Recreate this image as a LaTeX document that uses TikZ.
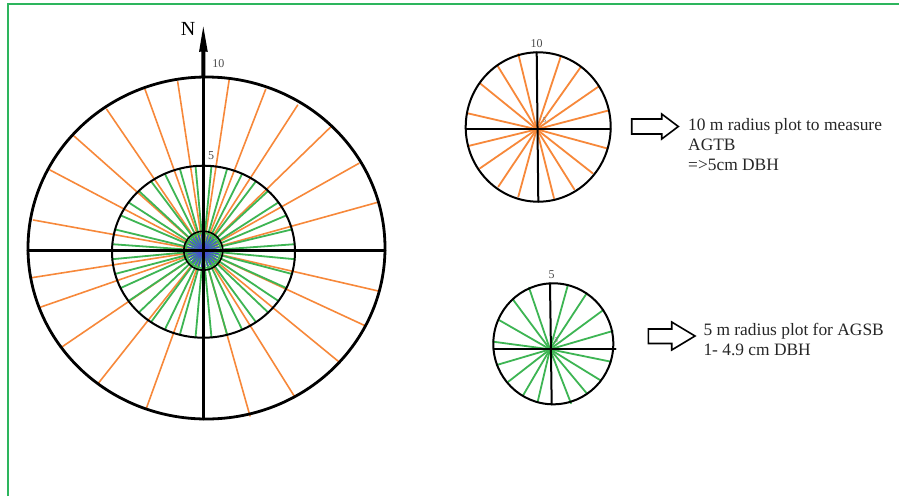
\documentclass[tikz,border=0pt]{standalone}
\usepackage{fontspec}
\setmainfont{Liberation Serif}
\definecolor{org}{HTML}{F7883A}
\definecolor{grn}{HTML}{3DB553}
\definecolor{blu}{HTML}{4650D2}
\definecolor{frm}{HTML}{2DB55D}
\tikzset{
  orgspoke/.style={org, line width=1.6pt},
  grnspoke/.style={grn, line width=1.8pt},
  thickblk/.style={black, line width=2.8pt},
  midblk/.style={black, line width=2pt},
  lbl/.style={inner sep=0pt, font=\fontsize{12}{12}\selectfont, text=black!70},
  tiny/.style={inner sep=0pt, font=\fontsize{7}{7}\selectfont, text=black!60},
  desc/.style={inner sep=0pt, anchor=base west, font=\fontsize{17.4}{20}\selectfont, text=black!85},
  blockarrow/.style={draw=black, fill=white, line width=1.6pt, line join=miter}
}
\begin{document}
\begin{tikzpicture}[x=1pt,y=-1pt, line cap=round]
\useasboundingbox (0,0) rectangle (899,496);
\fill[white] (0,0) rectangle (899,496);
\draw[frm, line width=2pt, line cap=butt] (7.5,496) -- (7.5,3.5) -- (899,3.5);

% ---------- big plot ----------
\coordinate (C) at (203.3,250.7);
\foreach \x/\y in {33.3/220, 50/170, 74/136, 106.7/109.3, 145/89.3, 177.7/81.7,
  229.3/79, 265.7/89.3, 297.7/105, 331/126.7, 359/163.3, 377.7/202.3,
  31.7/277.7, 40/307.3, 62.3/346.7, 98.3/383.3, 146/409.3, 250/416,
  295/397.3, 340/362.7, 365.7/326, 378.3/291}
  \draw[orgspoke] (C) -- (\x,\y);
\foreach \a in {5,15,...,355}
  \draw[grnspoke] (C) -- ({203.5+91.5*cos(\a)},{251.7-86*sin(\a)});
% centre disc
\foreach \a in {0,12,...,348}
  \draw[blu, line width=1.1pt] (C) -- ++(\a:16);
\fill[blu] (C) circle[radius=5pt];
\draw[grn, line width=1.6pt] (C) circle[radius=17.5pt];
\draw[black, line width=1.6pt] (C) circle[radius=19.5pt];

\draw[thickblk] (206.5,248) ellipse[x radius=178.5pt, y radius=171pt];
\draw[midblk] (203.5,251.7) ellipse[x radius=91.5pt, y radius=86pt];
\coordinate (BL) at (28,250.7);
\coordinate (BR) at (385,250.7);
\coordinate (BT) at (203.3,77);
\coordinate (BB) at (203.3,419);
\draw[thickblk] (BL) -- (BR);
\draw[thickblk] (BT) -- (BB);
% north arrow
\fill[black] (201.4,78) -- (201.4,51.5) -- (199,52) -- (203.3,26.5) -- (207.8,52) -- (205.3,51.5) -- (205.3,78) -- cycle;
\node[inner sep=0pt, font=\fontsize{20}{20}\selectfont] (N) at (188,28.5) {N};
\node[lbl] (ten) at (218.3,63.3) {10};
\node[lbl] (five) at (211,156) {5};

% ---------- 10 m plot ----------
\coordinate (O) at (536.7,129.3);
\foreach \x/\y in {518.3/54, 497.7/66, 480/83.3, 467.7/113.3, 468.3/146, 480/168.3,
  498.3/186.7, 518.3/196.7, 554/198.3, 574.3/189.3, 592.7/173.3, 606.7/148.3,
  607.7/110.7, 598.3/86.7, 581/66.7, 560.7/56.7}
  \draw[orgspoke, line width=1.8pt] (O) -- (\x,\y);
\draw[midblk] (538.2,127) ellipse[x radius=72.5pt, y radius=74.7pt];
\draw[midblk] (465.7,129.3) -- (610.7,129.3);
\draw[midblk] (536.7,52.3) -- (538.3,201.7);
\node[lbl] (tenB) at (536.7,44) {10};
\node[tiny] (fiveB) at (544.3,120) {5};

\draw[blockarrow] (631.7,119) -- (661.7,119) -- (661.7,114) -- (678.3,126.5)
  -- (661.7,139) -- (661.7,134) -- (631.7,134) -- cycle;
\node[desc] (t1) at (688,130) {10 m radius plot to measure};
\node[desc] (t2) at (688,150.5) {AGTB};
\node[desc] (t3) at (688,170.5) {=>5cm DBH};

% ---------- 5 m plot ----------
\coordinate (G) at (550,349.3);
\foreach \x/\y in {529/287.7, 513.3/300, 499/320, 493.3/341.7, 496.7/365, 508.3/381.7,
  523.3/395, 537.7/401.7, 571/403.3, 586.7/393.3, 600/380, 611/361.7,
  612.7/331, 603.3/310, 586.7/293.3, 567.7/285.7}
  \draw[grnspoke] (G) -- (\x,\y);
\draw[midblk] (553.3,343.8) ellipse[x radius=60pt, y radius=60.5pt];
\draw[midblk] (493.3,349.3) -- (615.7,349.3);
\draw[midblk] (550,283.3) -- (551.7,404.3);
\node[lbl] (fiveC) at (551.7,275) {5};
\node[tiny] (fiveD) at (556,340) {5};

\draw[blockarrow] (648.3,329) -- (671.7,329) -- (671.7,322) -- (695,336)
  -- (671.7,350) -- (671.7,343.5) -- (648.3,343.5) -- cycle;
\node[desc] (s1) at (703.3,335) {5 m radius plot for AGSB};
\node[desc] (s2) at (703.3,355.5) {1- 4.9 cm DBH};
\end{tikzpicture}
\end{document}
